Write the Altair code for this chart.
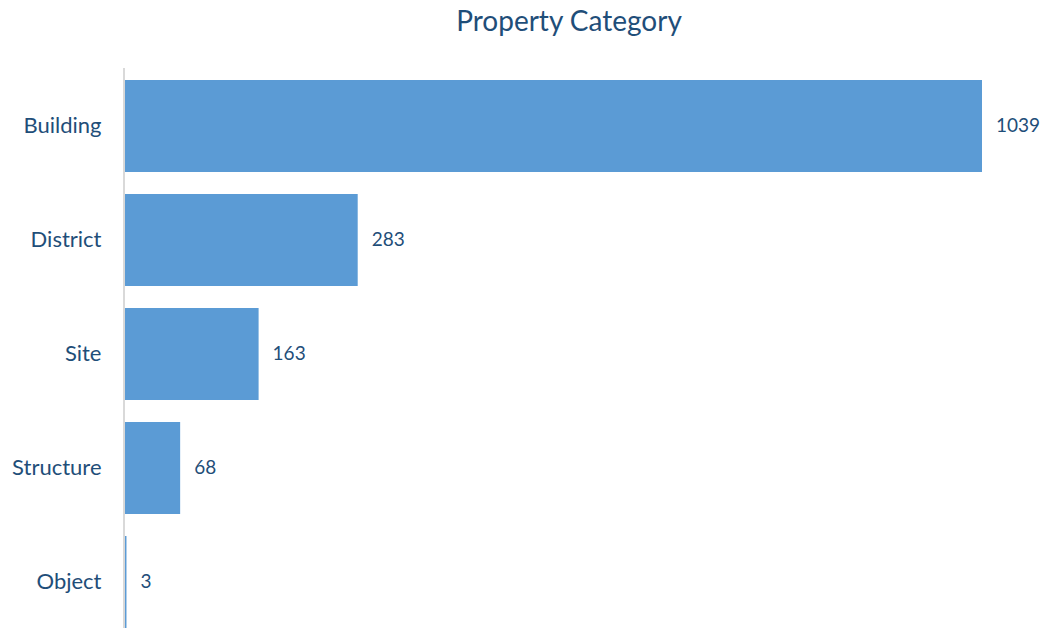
import altair as alt
import pandas as pd

categories = ["Building", "District", "Site", "Structure", "Object"]
counts = [1039, 283, 163, 68, 3]

df = pd.DataFrame({"category": categories, "count": counts})

FONT = "Lato"
TEXT = "#1F4E79"

y_enc = alt.Y("category:N", sort=categories,
              scale=alt.Scale(paddingInner=0.193, paddingOuter=0),
              axis=alt.Axis(title=None, ticks=False, domain=False, labelPadding=23,
                            labelFont=FONT, labelFontSize=22, labelColor=TEXT))
x_enc = alt.X("count:Q", scale=alt.Scale(domain=[0, 1039], nice=False),
              axis=None)

bars = alt.Chart(df).mark_bar(color="#5B9BD5").encode(x=x_enc, y=y_enc)
labels = alt.Chart(df).mark_text(align="left", baseline="middle", dx=14,
                                 font=FONT, fontSize=19, color=TEXT).encode(
    x=x_enc, y=y_enc, text="count:Q")
rule = alt.Chart(df).mark_rule(color="#D9D9D9", strokeWidth=1.5).encode(
    x=alt.value(0), y=alt.value(-12), y2=alt.value(557))

chart = alt.layer(bars, labels, rule).properties(
    width=858, height=548,
    padding={"left": 116, "top": 72, "right": 59, "bottom": 0},
    autosize=alt.AutoSizeParams(type="none"),
    title=alt.TitleParams("Property Category", font=FONT, fontSize=28,
                          fontWeight="normal", color=TEXT, anchor="middle",
                          dx=16, offset=30),
).configure_view(stroke=None)

chart.save("out.html", embed_options={"renderer": "svg", "actions": False})
